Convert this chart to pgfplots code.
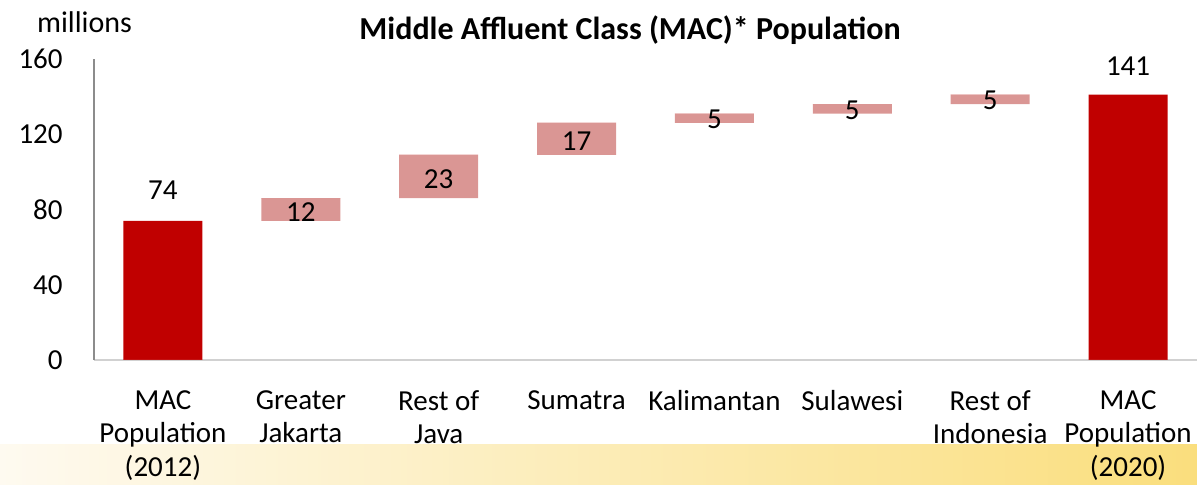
\documentclass[border=0pt]{standalone}
\usepackage{pgfplots}
\pgfplotsset{compat=1.18}
\usepackage{fontspec}
\setmainfont{Carlito}
\definecolor{darkred}{HTML}{C00000}
\definecolor{pinkbar}{HTML}{DA9694}
\definecolor{bandL}{RGB}{254,250,240}
\definecolor{bandR}{RGB}{250,222,125}
\begin{document}
\begin{tikzpicture}
\useasboundingbox (-47pt,-62.5pt) rectangle (551.5pt,180pt);
\shade[left color=bandL, right color=bandR] (-47pt,-62.5pt) rectangle (551.5pt,-42.5pt);
\begin{axis}[
  at={(0,0)}, anchor=south west,
  scale only axis, width=551.5pt, height=150.5pt,
  xmin=-0.5, xmax=7.5, ymin=0, ymax=160,
  stack plots=y,
  axis x line*=bottom, axis y line*=left,
  axis line style={-},
  x axis line style={draw=black!18, line width=0.9pt},
  y axis line style={draw=black!45, line width=0.9pt},
  major tick length=0pt,
  ytick={0,40,80,120,160},
  yticklabel={\pgfmathprintnumber{\tick}},
  xtick={0,1,2,3,4,5,6,7},
  xticklabels={{MAC\\Population\\(2012)},{Greater\\Jakarta},{Rest of\\Java},{Sumatra},{Kalimantan},{Sulawesi},{Rest of\\Indonesia},{MAC\\Population\\(2020)}},
  /pgf/number format/assume math mode=true,
  tick label style={font=\fontsize{14.5}{16.8}\selectfont, text=black},
  yticklabel style={xshift=-15.5pt, inner sep=0pt, anchor=east},
  xticklabel style={align=center, inner sep=0pt, yshift=-15pt},
  clip=false,
]
\addplot[ybar, bar width=39.5pt, draw=none, fill=none] coordinates {(0,0) (1,74) (2,86) (3,109) (4,126) (5,131) (6,136) (7,0)};
\addplot[ybar, bar width=39.5pt, draw=none, fill=pinkbar] coordinates {(0,0) (1,12) (2,23) (3,17) (4,5) (5,5) (6,5) (7,0)};
\addplot[ybar, bar width=39.5pt, draw=none, fill=darkred] coordinates {(0,74) (1,0) (2,0) (3,0) (4,0) (5,0) (6,0) (7,141)};
\addplot[stack plots=false, sharp plot, draw=none, mark=none, nodes near coords,
  point meta=explicit symbolic,
  every node near coord/.append style={anchor=center, inner sep=0pt, font=\fontsize{14.5}{17}\selectfont, text=black}]
  coordinates {(0,90.5)[74] (1,78.5)[12] (2,96)[23] (3,116.5)[17] (4,127.8)[5] (5,132.6)[5] (6,137.8)[5] (7,156)[141]};
\end{axis}
\node[font=\fontsize{16}{19}\selectfont\bfseries] at (268pt,165pt) {Middle Affluent Class (MAC)* Population};
\node[font=\fontsize{15}{18}\selectfont, anchor=west] at (-32pt,169pt) {millions};
\end{tikzpicture}
\end{document}
